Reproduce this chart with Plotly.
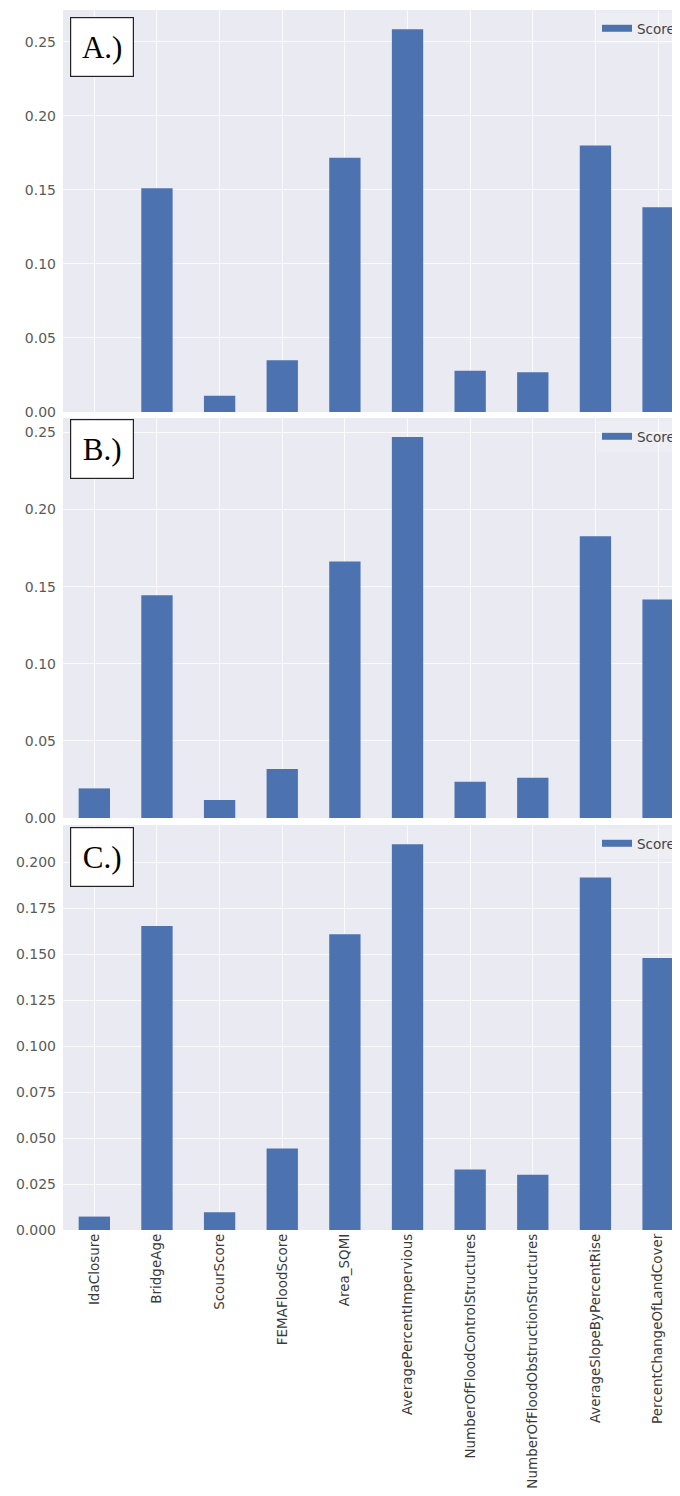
import plotly.graph_objects as go

categories = ["IdaClosure", "BridgeAge", "ScourScore", "FEMAFloodScore", "Area_SQMI",
              "AveragePercentImpervious", "NumberOfFloodControlStructures",
              "NumberOfFloodObstructionStructures", "AverageSlopeByPercentRise",
              "PercentChangeOfLandCover"]

score_a = [0.0, 0.151, 0.011, 0.035, 0.1716, 0.2585, 0.0278, 0.0268, 0.180, 0.1383]
score_b = [0.0192, 0.1444, 0.0117, 0.0317, 0.1663, 0.247, 0.0235, 0.0261, 0.1826, 0.1416]
score_c = [0.0073, 0.1655, 0.0097, 0.0444, 0.161, 0.2099, 0.0329, 0.0301, 0.1918, 0.148]

panel_labels = ["A.)", "B.)", "C.)"]
series_name = "Score"

BAR = "#4C72B0"
BG = "#EAEAF2"
OFF = 8                      # default browser body margin
WIN_W, WIN_H = 680, 1496
W, H = WIN_W - OFF, WIN_H - OFF
PLOT_LEFT, PLOT_TOP, PLOT_BOTTOM = 63, 10, 1230   # window pixels
L = PLOT_LEFT - OFF
T = PLOT_TOP - OFF
B = (OFF + H) - PLOT_BOTTOM
plot_h = PLOT_BOTTOM - PLOT_TOP
plot_w = WIN_W - PLOT_LEFT

def yfrac(p):
    return (PLOT_BOTTOM - p) / plot_h

# window-pixel extents of each panel
panels = [(10, 412), (418, 818), (825, 1230)]
tickfmts = [".2f", ".2f", ".3f"]
dticks = [0.05, 0.05, 0.025]
all_scores = [score_a, score_b, score_c]
GRID = "rgba(255,255,255,0.75)"

fig = go.Figure()
for i, (sc, (ptop, pbot)) in enumerate(zip(all_scores, panels)):
    n = "" if i == 0 else str(i + 1)
    fig.add_trace(go.Bar(x=categories, y=sc, marker=dict(color=BAR, line=dict(width=0)),
                         width=0.5, showlegend=False, xaxis="x" + n, yaxis="y" + n))
    # legend proxy (flat patch like matplotlib)
    fig.add_trace(go.Scatter(x=[None], y=[None], mode="lines", name=series_name,
                             line=dict(color=BAR, width=7), showlegend=True,
                             xaxis="x" + n, yaxis="y" + n,
                             legend="legend" + n))
    ymax = max(sc) * 1.05
    fig.layout["xaxis" + n] = dict(
        domain=[0, 1], anchor="y" + n, type="category",
        categoryorder="array", categoryarray=categories,
        range=[-0.5, 9.35], showgrid=True, gridcolor=GRID, gridwidth=1,
        showline=False, zeroline=False, ticks="",
        showticklabels=(i == 2), tickangle=-90,
        tickfont=dict(family="DejaVu Sans", size=13.5, color="#3a3a3a"),
    )
    fig.layout["yaxis" + n] = dict(
        domain=[yfrac(pbot), yfrac(ptop)], anchor="x" + n,
        range=[0, ymax], dtick=dticks[i], tick0=0, tickformat=tickfmts[i],
        showgrid=True, gridcolor=GRID, gridwidth=1, zeroline=False,
        showline=False, ticks="", ticklabelstandoff=6,
        tickfont=dict(family="DejaVu Sans", size=14, color="#5a5a5a"),
    )
    fig.layout["legend" + n] = dict(
        x=1.0, xanchor="right", y=yfrac(ptop + 3), yanchor="top",
        bgcolor="rgba(255,255,255,0.15)", borderwidth=0,
        font=dict(family="DejaVu Sans", size=13.5, color="#444"),
    )
    fig.add_annotation(
        text=panel_labels[i], xref="x" + n + " domain", yref="y" + n + " domain",
        x=(70 - PLOT_LEFT) / plot_w, y=1 - (7.3 if i == 0 else 1.5) / (pbot - ptop),
        xanchor="left", yanchor="top", showarrow=False,
        font=dict(family="Liberation Serif", size=31, color="black"),
        bgcolor="white", bordercolor="#222", borderwidth=1.2,
        width=60, height=56, borderpad=1, align="center", valign="middle",
    )

fig.update_layout(
    width=W, height=H, margin=dict(l=L, r=0, t=T, b=B, autoexpand=False),
    paper_bgcolor="white", plot_bgcolor=BG, bargap=0.5,
)

fig.write_html("out.html")
